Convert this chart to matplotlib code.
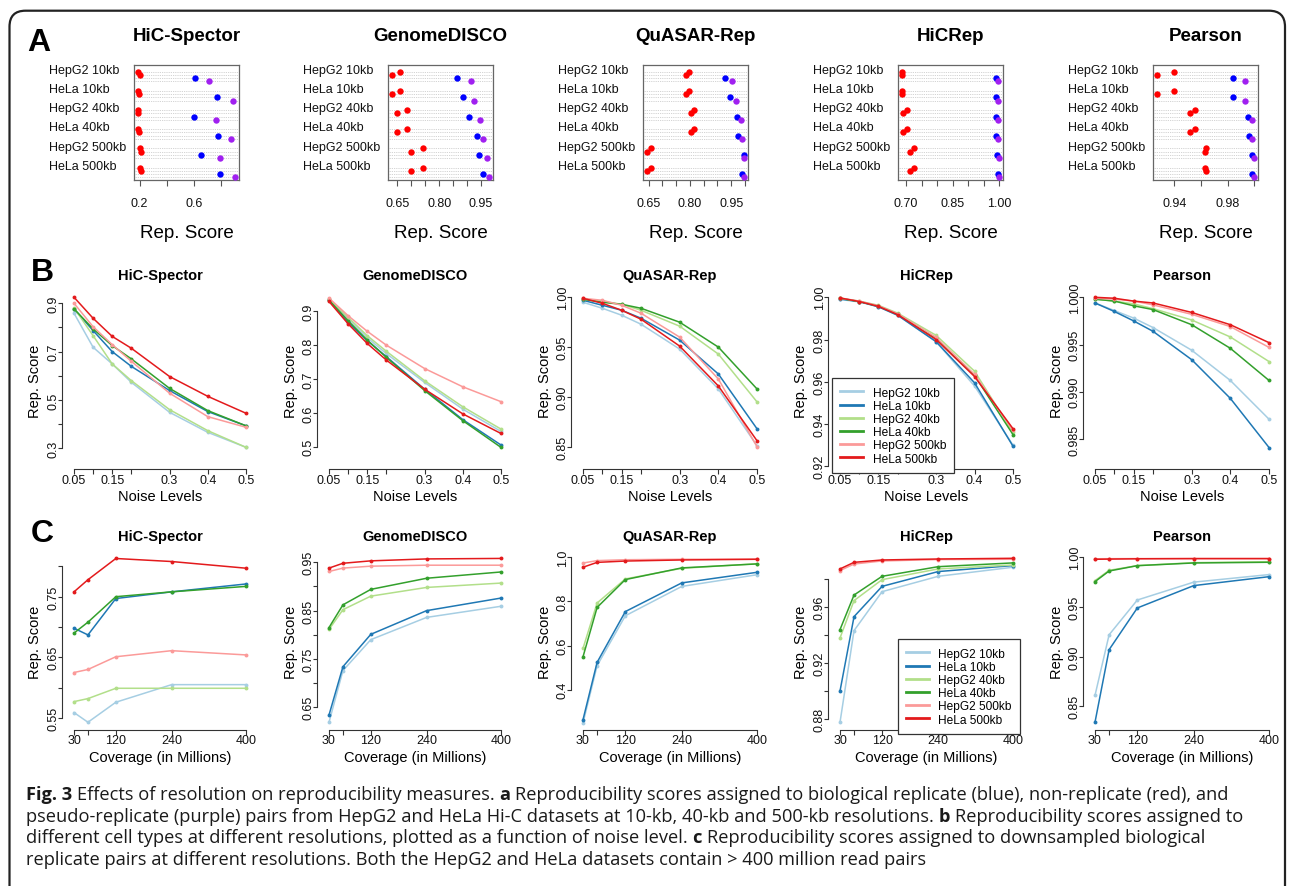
import matplotlib
matplotlib.use("Agg")
import matplotlib.pyplot as plt
import matplotlib.transforms as mtransforms
from matplotlib.patches import FancyBboxPatch
from matplotlib.lines import Line2D

plt.rcParams["font.family"] = ["Liberation Sans", "DejaVu Sans"]

W, H = 1290, 887
PT = 72 / 100  # points per pixel at dpi 100

methods = ["HiC-Spector", "GenomeDISCO", "QuASAR-Rep", "HiCRep", "Pearson"]
datasets = ["HepG2 10kb", "HeLa 10kb", "HepG2 40kb", "HeLa 40kb", "HepG2 500kb", "HeLa 500kb"]
series_colors = ["#A6CEE3", "#1F78B4", "#B2DF8A", "#33A02C", "#FB9A99", "#E31A1C"]

# ---- panel A: rows = methods, columns = datasets
a_nonrep1 = [
    [0.190, 0.190, 0.188, 0.188, 0.205, 0.205],
    [0.660, 0.660, 0.686, 0.686, 0.740, 0.740],
    [0.797, 0.797, 0.816, 0.816, 0.658, 0.658],
    [0.687, 0.687, 0.703, 0.703, 0.727, 0.727],
    [0.9395, 0.9395, 0.9552, 0.9552, 0.9639, 0.9627],
]
a_nonrep2 = [
    [0.200, 0.198, 0.190, 0.195, 0.212, 0.212],
    [0.630, 0.630, 0.650, 0.650, 0.699, 0.699],
    [0.786, 0.786, 0.804, 0.804, 0.644, 0.644],
    [0.687, 0.687, 0.689, 0.689, 0.714, 0.714],
    [0.9268, 0.9268, 0.9520, 0.9520, 0.9627, 0.9639],
]
a_rep = [
    [0.604, 0.766, 0.600, 0.778, 0.653, 0.792],
    [0.862, 0.886, 0.908, 0.935, 0.944, 0.956],
    [0.928, 0.946, 0.972, 0.976, 0.995, 0.990],
    [0.988, 0.989, 0.989, 0.990, 0.993, 0.994],
    [0.9838, 0.9838, 0.9950, 0.9958, 0.9980, 0.9985],
]
a_pseudo = [
    [0.712, 0.888, 0.761, 0.873, 0.792, 0.900],
    [0.913, 0.924, 0.946, 0.958, 0.971, 0.979],
    [0.954, 0.969, 0.984, 0.989, 0.997, 0.996],
    [0.995, 0.996, 0.996, 0.997, 0.998, 0.999],
    [0.9926, 0.9928, 0.9983, 0.9985, 0.9995, 0.9998],
]

# ---- panel B: scores vs noise level, one list per dataset
noise_levels = [0.05, 0.1, 0.15, 0.2, 0.3, 0.4, 0.5]
noise_hicspector = [
    [0.859, 0.718, 0.649, 0.573, 0.449, 0.366, 0.304],
    [0.877, 0.787, 0.700, 0.639, 0.539, 0.452, 0.393],
    [0.881, 0.766, 0.649, 0.580, 0.460, 0.373, 0.304],
    [0.877, 0.794, 0.725, 0.670, 0.548, 0.456, 0.393],
    [0.900, 0.803, 0.729, 0.660, 0.528, 0.431, 0.387],
    [0.925, 0.838, 0.763, 0.714, 0.597, 0.515, 0.445],
]
noise_genomedisco = [
    [0.935, 0.878, 0.822, 0.775, 0.690, 0.611, 0.545],
    [0.932, 0.867, 0.813, 0.766, 0.670, 0.580, 0.505],
    [0.936, 0.882, 0.828, 0.782, 0.695, 0.618, 0.552],
    [0.933, 0.872, 0.815, 0.764, 0.666, 0.577, 0.498],
    [0.939, 0.887, 0.841, 0.800, 0.731, 0.677, 0.633],
    [0.929, 0.863, 0.805, 0.756, 0.670, 0.597, 0.539],
]
noise_quasar = [
    [0.995, 0.989, 0.982, 0.973, 0.948, 0.908, 0.851],
    [0.997, 0.992, 0.987, 0.979, 0.957, 0.923, 0.868],
    [0.998, 0.996, 0.993, 0.987, 0.971, 0.943, 0.895],
    [0.998, 0.995, 0.993, 0.989, 0.975, 0.950, 0.908],
    [0.999, 0.997, 0.992, 0.984, 0.960, 0.918, 0.850],
    [0.999, 0.994, 0.987, 0.978, 0.951, 0.911, 0.856],
]
noise_hicrep = [
    [0.9990, 0.9978, 0.9955, 0.9915, 0.9790, 0.9580, 0.9300],
    [0.9992, 0.9980, 0.9955, 0.9915, 0.9790, 0.9595, 0.9295],
    [0.9995, 0.9982, 0.9962, 0.9925, 0.9820, 0.9650, 0.9360],
    [0.9995, 0.9980, 0.9958, 0.9920, 0.9805, 0.9630, 0.9350],
    [0.9997, 0.9982, 0.9960, 0.9922, 0.9810, 0.9635, 0.9370],
    [0.9997, 0.9980, 0.9957, 0.9918, 0.9800, 0.9625, 0.9378],
]
noise_pearson = [
    [0.9994, 0.9986, 0.9978, 0.9968, 0.9944, 0.9912, 0.9871],
    [0.9994, 0.9985, 0.9975, 0.9964, 0.9934, 0.9893, 0.9841],
    [0.9998, 0.9996, 0.9993, 0.9988, 0.9976, 0.9958, 0.9932],
    [0.9998, 0.9996, 0.9991, 0.9987, 0.9971, 0.9946, 0.9912],
    [0.9999, 0.9998, 0.9996, 0.9992, 0.9982, 0.9969, 0.9947],
    [1.0000, 0.9999, 0.9996, 0.9994, 0.9984, 0.9971, 0.9952],
]

# ---- panel C: scores vs coverage
coverage = [30, 60, 120, 240, 400]
cov_hicspector = [
    [0.559, 0.543, 0.576, 0.605, 0.605],
    [0.698, 0.687, 0.747, 0.758, 0.771],
    [0.577, 0.582, 0.599, 0.599, 0.599],
    [0.690, 0.708, 0.750, 0.758, 0.767],
    [0.625, 0.630, 0.651, 0.661, 0.654],
    [0.758, 0.778, 0.813, 0.808, 0.797],
]
cov_genomedisco = [
    [0.619, 0.726, 0.790, 0.836, 0.859],
    [0.634, 0.734, 0.801, 0.850, 0.876],
    [0.811, 0.852, 0.880, 0.898, 0.907],
    [0.815, 0.862, 0.894, 0.917, 0.930],
    [0.931, 0.938, 0.942, 0.944, 0.944],
    [0.938, 0.948, 0.953, 0.957, 0.958],
]
cov_quasar = [
    [0.249, 0.509, 0.735, 0.868, 0.921],
    [0.264, 0.524, 0.754, 0.884, 0.932],
    [0.587, 0.793, 0.902, 0.950, 0.971],
    [0.549, 0.773, 0.899, 0.952, 0.970],
    [0.974, 0.985, 0.989, 0.991, 0.992],
    [0.955, 0.977, 0.983, 0.988, 0.991],
]
cov_hicrep = [
    [0.8776, 0.9433, 0.9712, 0.9822, 0.9887],
    [0.9000, 0.9533, 0.9750, 0.9856, 0.9899],
    [0.9380, 0.9648, 0.9798, 0.9875, 0.9903],
    [0.9440, 0.9688, 0.9822, 0.9891, 0.9918],
    [0.9863, 0.9910, 0.9932, 0.9942, 0.9944],
    [0.9875, 0.9922, 0.9939, 0.9946, 0.9951],
]
cov_pearson = [
    [0.861, 0.922, 0.957, 0.975, 0.9826],
    [0.834, 0.907, 0.949, 0.9715, 0.9805],
    [0.9765, 0.9869, 0.9916, 0.9946, 0.9956],
    [0.9755, 0.9862, 0.9916, 0.9943, 0.9950],
    [0.9985, 0.9986, 0.9987, 0.9987, 0.9987],
    [0.9980, 0.9982, 0.9985, 0.9987, 0.9987],
]

noise_scores = [noise_hicspector, noise_genomedisco, noise_quasar, noise_hicrep, noise_pearson]
cov_scores = [cov_hicspector, cov_genomedisco, cov_quasar, cov_hicrep, cov_pearson]

# ---- tick marks and their labels ("" = tick without label)
a_ticks = [
    [0.2, 0.4, 0.6, 0.8],
    [0.65, 0.70, 0.75, 0.80, 0.85, 0.90, 0.95],
    [0.65, 0.70, 0.75, 0.80, 0.85, 0.90, 0.95, 1.00],
    [0.70, 0.75, 0.80, 0.85, 0.90, 0.95, 1.00],
    [0.94, 0.96, 0.98, 1.00],
]
a_ticklabels = [
    ["0.2", "", "0.6", ""],
    ["0.65", "", "", "0.80", "", "", "0.95"],
    ["0.65", "", "", "0.80", "", "", "0.95", ""],
    ["0.70", "", "", "0.85", "", "", "1.00"],
    ["0.94", "", "0.98", ""],
]
noise_ticks = [0.05, 0.1, 0.15, 0.2, 0.3, 0.4, 0.5]
noise_ticklabels = ["0.05", "", "0.15", "", "0.3", "0.4", "0.5"]
cov_ticks = [30, 60, 120, 240, 400]
cov_ticklabels = ["30", "", "120", "240", "400"]

b_yticks = [
    [0.3, 0.4, 0.5, 0.6, 0.7, 0.8, 0.9],
    [0.5, 0.6, 0.7, 0.8, 0.9],
    [0.85, 0.90, 0.95, 1.00],
    [0.92, 0.94, 0.96, 0.98, 1.00],
    [0.985, 0.990, 0.995, 1.000],
]
b_yticklabels = [
    ["0.3", "", "0.5", "", "0.7", "", "0.9"],
    ["0.5", "0.6", "0.7", "0.8", "0.9"],
    ["0.85", "0.90", "0.95", "1.00"],
    ["0.92", "0.94", "0.96", "0.98", "1.00"],
    ["0.985", "0.990", "0.995", "1.000"],
]
c_yticks = [
    [0.55, 0.60, 0.65, 0.70, 0.75, 0.80],
    [0.65, 0.70, 0.75, 0.80, 0.85, 0.90, 0.95],
    [0.4, 0.6, 0.8, 1.0],
    [0.88, 0.90, 0.92, 0.94, 0.96, 0.98],
    [0.85, 0.90, 0.95, 1.00],
]
c_yticklabels = [
    ["0.55", "", "0.65", "", "0.75", ""],
    ["0.65", "", "0.75", "", "0.85", "", "0.95"],
    ["0.4", "0.6", "0.8", "1.0"],
    ["0.88", "", "0.92", "", "0.96", ""],
    ["0.85", "0.90", "0.95", "1.00"],
]

caption_lines = [
    [("Fig. 3", True), ("Effects of resolution on reproducibility measures.", False), ("a", True),
     ("Reproducibility scores assigned to biological replicate (blue), non-replicate (red), and", False)],
    [("pseudo-replicate (purple) pairs from HepG2 and HeLa Hi-C datasets at 10-kb, 40-kb and 500-kb resolutions.", False),
     ("b", True), ("Reproducibility scores assigned to", False)],
    [("different cell types at different resolutions, plotted as a function of noise level.", False), ("c", True),
     ("Reproducibility scores assigned to downsampled biological", False)],
    [("replicate pairs at different resolutions. Both the HepG2 and HeLa datasets contain > 400 million read pairs", False)],
]

# ---- layout (pixels, y measured from the top)
a_left = [134, 388, 643, 898, 1153]
a_width, a_top, a_bottom = 105, 66, 181
col_tick0 = [74, 329, 583, 840, 1095]
col_tickN = [246, 501, 757, 1013, 1269]
b_yanchor = [(0.9, 304.3, 0.3, 449.3), (0.9, 312.3, 0.5, 447.7), (1.0, 298.3, 0.85, 447.7),
             (1.0, 298.3, 0.92, 467.3), (1.0, 298.3, 0.985, 440.0)]
c_yanchor = [(0.75, 597.7, 0.55, 719.0), (0.95, 563.3, 0.65, 708.3), (1.0, 558.3, 0.4, 690.7),
             (0.96, 608.3, 0.88, 720.0), (1.0, 558.3, 0.85, 707.3)]

fig = plt.figure(figsize=(W / 100, H / 100), dpi=100)
fig.patch.set_facecolor("white")


def px_axes(x0, y0, x1, y1):
    return fig.add_axes([x0 / W, 1 - y1 / H, (x1 - x0) / W, (y1 - y0) / H])


def px_text(x, y, s, **kw):
    return fig.text(x / W, 1 - y / H, s, **kw)


def calib(v1, p1, v2, p2, lo, hi):
    k = (v2 - v1) / (p2 - p1)
    return v1 + (lo - p1) * k, v1 + (hi - p1) * k


# rounded frame around the whole figure
frame = FancyBboxPatch((9.5 / 100, -1.0), (1285 - 9.5) / 100, (H - 11.7) / 100 + 1.0,
                       boxstyle="round,pad=0,rounding_size=0.16", transform=fig.dpi_scale_trans,
                       fill=False, lw=1.6, ec="#222222")
fig.add_artist(frame)

for letter, x, y in [("A", 39, 43), ("B", 42.5, 273), ("C", 42.5, 534)]:
    px_text(x, y, letter, fontsize=23, fontweight="bold", ha="center", va="center")

# ---- row A: dot charts
dot_series = [a_nonrep1, a_nonrep2, a_rep, a_pseudo]
dot_colors = ["#FF0000", "#FF0000", "#0000FF", "#A020F0"]
for i, m in enumerate(methods):
    x0 = a_left[i]
    ax = px_axes(x0, a_top, x0 + a_width, a_bottom)
    vals = a_nonrep1[i] + a_nonrep2[i] + a_rep[i] + a_pseudo[i]
    lo, hi = min(vals), max(vals)
    pad = 0.04 * (hi - lo)
    ax.set_xlim(lo - pad, hi + pad)
    ax.set_ylim(33.85, -2.1)
    for g in range(len(datasets)):
        for r in range(4):
            ax.axhline(6 * g + r, color="#c4c4c4", lw=0.6, ls=(0, (1, 1.2)), zorder=1)
    for r, (series, col) in enumerate(zip(dot_series, dot_colors)):
        ys = [6 * g + r for g in range(len(datasets))]
        ax.plot(series[i], ys, "o", color=col, ms=4.6, mec="none", zorder=3, clip_on=False)
    ax.set_yticks([])
    ax.set_xticks(a_ticks[i], a_ticklabels[i])
    ax.tick_params(axis="x", length=6 * PT, width=0.8, color="#555555", pad=8.1,
                   labelsize=9, labelcolor="#111111")
    for s in ax.spines.values():
        s.set_color("#666666")
        s.set_linewidth(0.9)
    trans = mtransforms.blended_transform_factory(fig.transFigure, ax.transData)
    for g, name in enumerate(datasets):
        ax.text((x0 - 85) / W, 6 * g - 0.6, name, transform=trans, ha="left", va="center",
                fontsize=9, color="#111111")
    px_text(x0 + a_width / 2, 36.7, m, ha="center", va="center", fontsize=13.5, fontweight="bold")
    px_text(x0 + a_width / 2, 233, "Rep. Score", ha="center", va="center", fontsize=13.5)


# ---- rows B and C: line charts
def line_panel(i, top, bottom, xs, scores, xticks, xticklabels, yanchor, yticks, yticklabels,
               title_y, xlabel, xlabel_y, xpad):
    left = col_tick0[i] - 12.5
    right = col_tickN[i] + 7
    ax = px_axes(left, top, right, bottom)
    ax.set_xlim(*calib(xticks[0], col_tick0[i], xticks[-1], col_tickN[i], left, right))
    ax.set_ylim(*calib(*yanchor, bottom, top))
    for vals, c in zip(scores, series_colors):
        ax.plot(xs, vals, "-o", color=c, lw=1.1, ms=2.8, mec="none", clip_on=False)
    ax.patch.set_alpha(0)
    for side in ["top", "right"]:
        ax.spines[side].set_visible(False)
    for side in ["left", "bottom"]:
        ax.spines[side].set_color("#333333")
        ax.spines[side].set_linewidth(0.8)
    ax.spines["left"].set_bounds(yticks[0], yticks[-1])
    ax.spines["bottom"].set_bounds(xticks[0], xticks[-1])
    ax.set_xticks(xticks, xticklabels)
    ax.set_yticks(yticks, yticklabels)
    ax.tick_params(length=4.5 * PT, width=0.8, color="#333333", labelsize=9, labelcolor="#111111")
    ax.tick_params(axis="x", pad=xpad)
    ax.tick_params(axis="y", pad=-2.1, labelrotation=90)
    for lab in ax.get_yticklabels():
        lab.set_va("center")
    xc = (col_tick0[i] + col_tickN[i]) / 2
    px_text(xc, title_y, methods[i], ha="center", va="center", fontsize=10.5, fontweight="bold")
    px_text(xc, xlabel_y, xlabel, ha="center", va="center", fontsize=10.5)
    px_text(left - 26, (top + bottom) / 2, "Rep. Score", ha="center", va="center",
            fontsize=10.5, rotation=90)
    return ax


legend_handles = [Line2D([], [], color=c, lw=2.0) for c in series_colors]


def add_legend(x, y):
    leg = fig.legend(legend_handles, datasets, loc="lower left", bbox_to_anchor=(x / W, 1 - y / H),
                     bbox_transform=fig.transFigure, frameon=True, fancybox=False, edgecolor="#333333",
                     framealpha=1, fontsize=8.6, handlelength=1.9, handletextpad=0.8,
                     labelspacing=0.1, borderpad=0.7, borderaxespad=0)
    leg.get_frame().set_linewidth(0.9)


for i in range(len(methods)):
    line_panel(i, 292, 470, noise_levels, noise_scores[i], noise_ticks, noise_ticklabels,
               b_yanchor[i], b_yticks[i], b_yticklabels[i], 275.7, "Noise Levels", 497, 0.5)
    line_panel(i, 553, 731, coverage, cov_scores[i], cov_ticks, cov_ticklabels,
               c_yanchor[i], c_yticks[i], c_yticklabels[i], 536.7, "Coverage (in Millions)", 758, -0.4)

add_legend(832, 474)
add_legend(897.6, 735)

# ---- caption with bold run-in letters
renderer = fig.canvas.get_renderer()
cap_family = ["Open Sans", "DejaVu Sans"]


def text_width(s, size, bold):
    t = fig.text(0, 0, s, fontsize=size, fontweight="bold" if bold else "normal", family=cap_family)
    w = t.get_window_extent(renderer).width
    t.remove()
    return w


def line_width(parts, size):
    space = text_width("x x", size, False) - text_width("xx", size, False)
    return sum(text_width(s, size, b) for s, b in parts) + space * (len(parts) - 1)


base = 11.0
cap_size = base * (1210 / line_width(caption_lines[0], base))
space_w = text_width("x x", cap_size, False) - text_width("xx", cap_size, False)
for k, parts in enumerate(caption_lines):
    x = 26
    y = 800 + k * 21.7
    for s, b in parts:
        t = px_text(x, y, s, fontsize=cap_size, fontweight="bold" if b else "normal",
                    family=cap_family, ha="left", va="baseline", color="#1a1a1a")
        x += t.get_window_extent(renderer).width + space_w

fig.savefig("out.png", dpi=100)
